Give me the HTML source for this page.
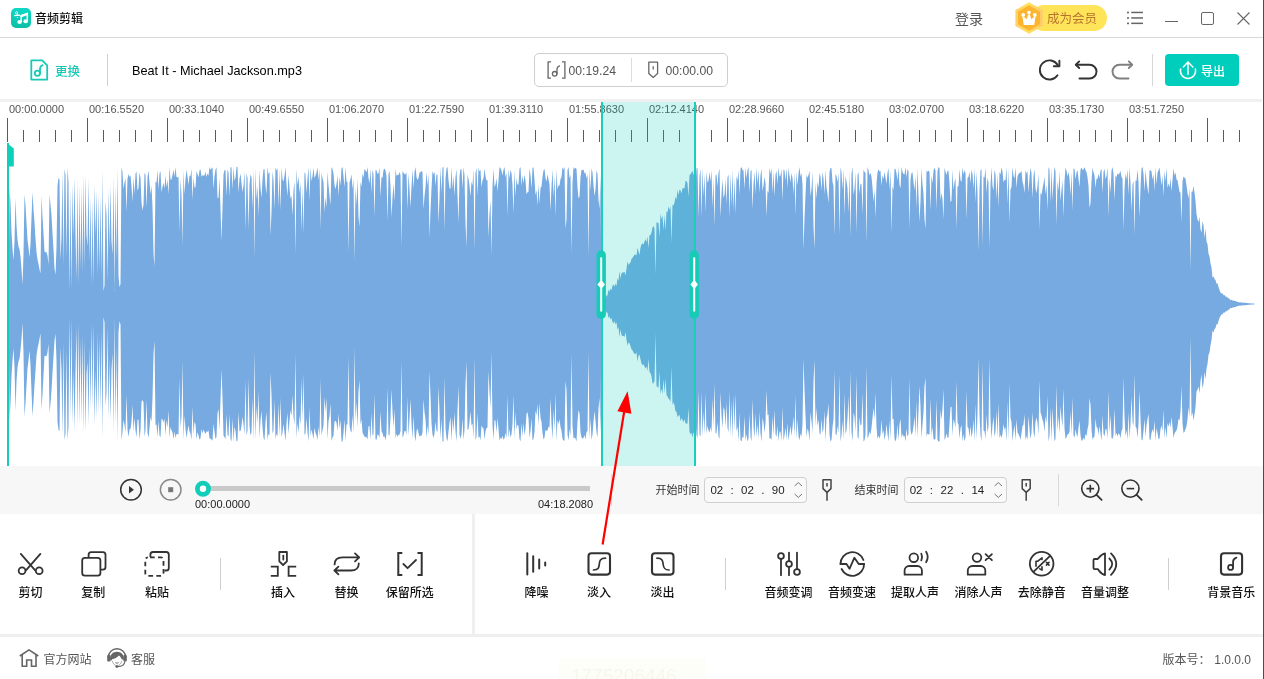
<!DOCTYPE html>
<html lang="zh-CN">
<head>
<meta charset="utf-8">
<title>音频剪辑</title>
<style>
*{box-sizing:border-box;margin:0;padding:0}
html,body{width:1264px;height:679px;overflow:hidden;background:#fff}
body{position:relative;font-family:"Liberation Sans","Noto Sans CJK SC",sans-serif;color:#222}
.a{position:absolute}
.t{position:absolute;white-space:nowrap;line-height:1}
.cjk{font-family:"Liberation Sans","Noto Sans CJK SC",sans-serif}
svg{position:absolute;overflow:visible}
</style>
</head>
<body>
<!-- ===== title bar ===== -->
<div class="a" style="left:0;top:37px;width:1263px;height:1px;background:#d9d9d9"></div>
<svg style="left:11px;top:8px" width="20" height="20" viewBox="0 0 20 20">
  <defs><linearGradient id="lg" x1="0" y1="0" x2="0" y2="1"><stop offset="0" stop-color="#10d8c6"/><stop offset="1" stop-color="#0bbfa6"/></linearGradient></defs>
  <rect x="0" y="0" width="20" height="20" rx="5" fill="url(#lg)"/>
  <path d="M10.2 14V7.6L16.3 5.6V13.2" stroke="#fff" stroke-width="1.5" fill="none"/>
  <path d="M9.5 7.2L17 4.8V7L9.5 9.4Z" fill="#fff"/>
  <ellipse cx="8.6" cy="14.1" rx="2.3" ry="2" fill="#fff"/>
  <ellipse cx="14.7" cy="13.2" rx="2.3" ry="2" fill="#fff"/>
  <path d="M3.3 7.6L9 7.1" stroke="#fff" stroke-width="1.1" fill="none"/>
  <circle cx="5.6" cy="4.9" r="1.1" stroke="#fff" stroke-width="0.9" fill="none"/>
  <path d="M6.2 6L7.5 7.3" stroke="#fff" stroke-width="0.9"/>
  <circle cx="6.4" cy="9.6" r="0.6" fill="#fff" opacity="0.8"/>
</svg>
<div class="t" style="left:35px;top:13px;font-size:12px;color:#111;font-weight:500">音频剪辑</div>

<div class="t" style="left:955px;top:12px;font-size:14px;color:#555">登录</div>
<!-- vip pill -->
<div class="a" style="left:1031px;top:5px;width:76px;height:25.5px;border-radius:13px;background:#ffe45a"></div>
<svg style="left:1014px;top:2px" width="30" height="32" viewBox="0 0 30 32">
  <defs><linearGradient id="hx" x1="0" y1="0" x2="1" y2="0"><stop offset="0" stop-color="#ffcf6a"/><stop offset="0.5" stop-color="#ffe05a"/><stop offset="1" stop-color="#ffc870"/></linearGradient></defs>
  <polygon points="15,0.2 28.6,8.1 28.6,23.9 15,31.8 1.4,23.9 1.4,8.1" fill="url(#hx)"/>
  <polygon points="15,3.3 26,9.7 26,22.3 15,28.7 4,22.3 4,9.7" fill="#fdb42e"/>
  <path d="M8.3 13.6L12.6 17.2L14.3 12.4H15.7L17.4 17.2L21.7 13.6L20.2 22.9H9.8Z" fill="#fff"/>
  <circle cx="9.2" cy="12.9" r="1.9" fill="#fff"/><circle cx="20.8" cy="12.9" r="1.9" fill="#fff"/><circle cx="15" cy="10.6" r="1.8" fill="#fff"/>
</svg>
<div class="t" style="left:1047px;top:12.5px;font-size:12.5px;color:#b8732c">成为会员</div>
<!-- menu / min / max / close -->
<svg style="left:1126px;top:10px" width="20" height="16" viewBox="0 0 20 16">
  <g fill="#666"><rect x="1" y="1.7" width="2" height="1.6"/><rect x="1" y="7.2" width="2" height="1.6"/><rect x="1" y="12.6" width="2" height="1.6"/>
  <rect x="5.2" y="1.7" width="11.8" height="1.5"/><rect x="5.2" y="7.2" width="11.8" height="1.5"/><rect x="5.2" y="12.6" width="11.8" height="1.5"/></g>
</svg>
<div class="a" style="left:1165px;top:21px;width:13px;height:1px;background:#666"></div>
<div class="a" style="left:1201px;top:12px;width:13px;height:13px;border:1px solid #666;border-radius:2px"></div>
<svg style="left:1237px;top:12px" width="13" height="13" viewBox="0 0 13 13"><path d="M0.5 0.5L12.5 12.5M12.5 0.5L0.5 12.5" stroke="#666" stroke-width="1.1"/></svg>

<!-- ===== toolbar ===== -->
<svg style="left:30px;top:59px" width="19" height="23" viewBox="0 0 19 23">
  <path d="M1.3 1.3H12.2L17.2 6.3V20.6H1.3Z" stroke="#18cab5" stroke-width="1.8" fill="none" stroke-linejoin="round"/>
  <circle cx="7.4" cy="14.3" r="2.6" stroke="#18cab5" stroke-width="1.8" fill="none"/>
  <path d="M10 14.2V9.3Q10.2 7.2 12.6 6.2" stroke="#18cab5" stroke-width="1.8" fill="none" stroke-linecap="round"/>
</svg>
<div class="t" style="left:55px;top:65.5px;font-size:12.5px;color:#19c9b4;font-weight:500">更换</div>
<div class="a" style="left:107px;top:54px;width:1px;height:32px;background:#d0d0d0"></div>
<div class="t" style="left:132px;top:64.5px;font-size:12.7px;color:#000">Beat It - Michael Jackson.mp3</div>

<div class="a" style="left:534px;top:53px;width:194px;height:33.6px;border:1px solid #cfcfcf;border-radius:5px"></div>
<svg style="left:547px;top:61px" width="19" height="18" viewBox="0 0 19 18">
  <path d="M4 0.8H1.1V17.2H4M15 0.8H17.9V17.2H15" stroke="#666" stroke-width="1.3" fill="none"/>
  <circle cx="7.7" cy="12.8" r="2.3" stroke="#666" stroke-width="1.3" fill="none"/>
  <path d="M10 12.6V7.6Q10.3 5.7 12.4 4.9" stroke="#666" stroke-width="1.3" fill="none" stroke-linecap="round"/>
</svg>
<div class="t" style="left:568.5px;top:65px;font-size:12.2px;color:#555">00:19.24</div>
<div class="a" style="left:631px;top:58px;width:1px;height:24px;background:#dcdcdc"></div>
<svg style="left:647px;top:61px" width="13" height="18" viewBox="0 0 13 18">
  <path d="M1.8 1.2H10.6V12.4L6.2 16.4L1.8 12.4Z" stroke="#666" stroke-width="1.3" fill="none" stroke-linejoin="round"/>
  <path d="M6.2 5.2V8.4" stroke="#666" stroke-width="1.3"/>
</svg>
<div class="t" style="left:665.5px;top:65px;font-size:12.2px;color:#555">00:00.00</div>

<svg style="left:1038px;top:58px" width="24" height="24" viewBox="0 0 24 24">
  <path d="M19.8 7.2A9.6 9.6 0 1 0 19.5 17.2" stroke="#333" stroke-width="1.9" fill="none" stroke-linecap="round"/>
  <path d="M21.4 2.6V8.2H15.8" stroke="#333" stroke-width="1.9" fill="none" stroke-linecap="round" stroke-linejoin="round"/>
</svg>
<svg style="left:1074px;top:60px" width="24" height="20" viewBox="0 0 24 20">
  <path d="M5.2 1.4L1.8 4.7L5.2 8" stroke="#333" stroke-width="1.9" fill="none" stroke-linecap="round" stroke-linejoin="round"/>
  <path d="M2.2 4.7H15.6A6.9 6.9 0 0 1 15.6 18.5H5.5" stroke="#333" stroke-width="1.9" fill="none" stroke-linecap="round"/>
</svg>
<svg style="left:1110px;top:60px" width="24" height="20" viewBox="0 0 24 20">
  <path d="M18.8 1.4L22.2 4.7L18.8 8" stroke="#808080" stroke-width="1.9" fill="none" stroke-linecap="round" stroke-linejoin="round"/>
  <path d="M21.8 4.7H9.4A6.9 6.9 0 0 0 9.4 18.5H18.5" stroke="#808080" stroke-width="1.9" fill="none" stroke-linecap="round"/>
</svg>
<div class="a" style="left:1152px;top:54px;width:1px;height:32px;background:#d6d6d6"></div>
<div class="a" style="left:1165px;top:54px;width:74px;height:32px;border-radius:4px;background:#00cebd"></div>
<svg style="left:1178px;top:60px" width="20" height="20" viewBox="0 0 20 20">
  <path d="M2.6 9.1A7.6 7.6 0 1 0 17.4 9.1" stroke="#fff" stroke-width="1.5" fill="none" stroke-linecap="round"/>
  <path d="M10 1.9V14.2M5.3 6.9L10 1.9L14.9 6.9" stroke="#fff" stroke-width="1.5" fill="none" stroke-linecap="round" stroke-linejoin="round"/>
</svg>
<div class="t" style="left:1201px;top:66px;font-size:12px;color:#fff;font-weight:500">导出</div>

<!-- band -->
<div class="a" style="left:0;top:99px;width:1262px;height:3px;background:#f0f0f0"></div>

<!-- ===== ruler ===== -->
<div class="t" style="left:9px;top:104px;font-size:11px;color:#555">00:00.0000</div>
<div class="t" style="left:89px;top:104px;font-size:11px;color:#555">00:16.5520</div>
<div class="t" style="left:169px;top:104px;font-size:11px;color:#555">00:33.1040</div>
<div class="t" style="left:249px;top:104px;font-size:11px;color:#555">00:49.6550</div>
<div class="t" style="left:329px;top:104px;font-size:11px;color:#555">01:06.2070</div>
<div class="t" style="left:409px;top:104px;font-size:11px;color:#555">01:22.7590</div>
<div class="t" style="left:489px;top:104px;font-size:11px;color:#555">01:39.3110</div>
<div class="t" style="left:569px;top:104px;font-size:11px;color:#555">01:55.8630</div>
<div class="t" style="left:649px;top:104px;font-size:11px;color:#555">02:12.4140</div>
<div class="t" style="left:729px;top:104px;font-size:11px;color:#555">02:28.9660</div>
<div class="t" style="left:809px;top:104px;font-size:11px;color:#555">02:45.5180</div>
<div class="t" style="left:889px;top:104px;font-size:11px;color:#555">03:02.0700</div>
<div class="t" style="left:969px;top:104px;font-size:11px;color:#555">03:18.6220</div>
<div class="t" style="left:1049px;top:104px;font-size:11px;color:#555">03:35.1730</div>
<div class="t" style="left:1129px;top:104px;font-size:11px;color:#555">03:51.7250</div>
<svg style="left:0;top:0" width="1264" height="150" viewBox="0 0 1264 150"><path d="M7.5 118V142M23.5 130V142M39.5 130V142M55.5 130V142M71.5 130V142M87.5 118V142M103.5 130V142M119.5 130V142M135.5 130V142M151.5 130V142M167.5 118V142M183.5 130V142M199.5 130V142M215.5 130V142M231.5 130V142M247.5 118V142M263.5 130V142M279.5 130V142M295.5 130V142M311.5 130V142M327.5 118V142M343.5 130V142M359.5 130V142M375.5 130V142M391.5 130V142M407.5 118V142M423.5 130V142M439.5 130V142M455.5 130V142M471.5 130V142M487.5 118V142M503.5 130V142M519.5 130V142M535.5 130V142M551.5 130V142M567.5 118V142M583.5 130V142M599.5 130V142M615.5 130V142M631.5 130V142M647.5 118V142M663.5 130V142M679.5 130V142M695.5 130V142M711.5 130V142M727.5 118V142M743.5 130V142M759.5 130V142M775.5 130V142M791.5 130V142M807.5 118V142M823.5 130V142M839.5 130V142M855.5 130V142M871.5 130V142M887.5 118V142M903.5 130V142M919.5 130V142M935.5 130V142M951.5 130V142M967.5 118V142M983.5 130V142M999.5 130V142M1015.5 130V142M1031.5 130V142M1047.5 118V142M1063.5 130V142M1079.5 130V142M1095.5 130V142M1111.5 130V142M1127.5 118V142M1143.5 130V142M1159.5 130V142M1175.5 130V142M1191.5 130V142M1207.5 118V142M1223.5 130V142M1239.5 130V142" stroke="#5a5a5a" stroke-width="1"/></svg>

<!-- ===== waveform ===== -->
<svg style="left:0;top:0" width="1264" height="679" viewBox="0 0 1264 679">
<path d="M8 304 L8.5 303.7 L9.5 188 L10.5 202.2 L11.5 231.8 L12.5 248.7 L13.5 260.3 L14.5 241.5 L15.5 197.9 L16.5 225.8 L17.5 239.6 L18.5 246.5 L19.5 249.6 L20.5 256.6 L21.5 269.2 L22.5 284.6 L23.5 254.2 L24.5 194.3 L25.5 205.3 L26.5 222.9 L27.5 239.7 L28.5 247.7 L29.5 257.6 L30.5 244 L31.5 217.6 L32.5 192.1 L33.5 209.5 L34.5 222.3 L35.5 238.7 L36.5 252.1 L37.5 259.6 L38.5 264 L39.5 269.6 L40.5 273.4 L41.5 195.6 L42.5 216.6 L43.5 233.5 L44.5 251.4 L45.5 252.5 L46.5 251.9 L47.5 255.7 L48.5 264.8 L49.5 195.1 L50.5 204.4 L51.5 215.6 L52.5 233 L53.5 249.3 L54.5 268.6 L55.5 274.8 L56.5 247.3 L57.5 185.7 L58.5 177.7 L59.5 179.4 L60.5 260.2 L61.5 235.9 L62.5 169.9 L63.5 265.8 L64.5 169 L65.5 175.1 L66.5 258.4 L67.5 167 L68.5 182.6 L69.5 291 L70.5 188.1 L71.5 289.3 L72.5 183.9 L73.5 237.8 L74.5 177.1 L75.5 235.3 L76.5 280.1 L77.5 178.9 L78.5 285.2 L79.5 184.5 L80.5 269.3 L81.5 185 L82.5 272.6 L83.5 174.1 L84.5 267.7 L85.5 173.8 L86.5 234.7 L87.5 246.6 L88.5 178.1 L89.5 261.7 L90.5 196.4 L91.5 285.1 L92.5 198 L93.5 285.1 L94.5 183.1 L95.5 236.4 L96.5 189.5 L97.5 276.9 L98.5 192.2 L99.5 271.1 L100.5 195.2 L101.5 276.9 L102.5 168.4 L103.5 291.1 L104.5 285.4 L105.5 201.5 L106.5 214.1 L107.5 281 L108.5 188 L109.5 249 L110.5 185.2 L111.5 241.1 L112.5 254.3 L113.5 175.8 L114.5 290.9 L115.5 184.4 L116.5 260.2 L117.5 167 L118.5 275.8 L119.5 287.2 L120.5 284.1 L121.5 167.3 L122.5 172 L123.5 189 L124.5 182.5 L125.5 178.3 L126.5 212.2 L127.5 178.4 L128.5 173.9 L129.5 177.1 L130.5 175.3 L131.5 186.6 L132.5 201.7 L133.5 176.9 L134.5 194.2 L135.5 173.4 L136.5 171.6 L137.5 190.8 L138.5 188.1 L139.5 172.6 L140.5 177.5 L141.5 202.5 L142.5 210.4 L143.5 204.8 L144.5 172.9 L145.5 174.4 L146.5 207.7 L147.5 176.9 L148.5 170.6 L149.5 182.5 L150.5 194.2 L151.5 185.8 L152.5 207 L153.5 253.6 L154.5 266.4 L155.5 181.3 L156.5 183.1 L157.5 170 L158.5 189.4 L159.5 173.2 L160.5 171.2 L161.5 192.2 L162.5 186.9 L163.5 182.7 L164.5 188.4 L165.5 175.3 L166.5 187.3 L167.5 179.4 L168.5 194.4 L169.5 167 L170.5 180.1 L171.5 179.2 L172.5 175.3 L173.5 169.6 L174.5 176.8 L175.5 167 L176.5 177 L177.5 177.6 L178.5 176.6 L179.5 231.7 L180.5 179.2 L181.5 194.5 L182.5 246.1 L183.5 170 L184.5 194.3 L185.5 178.9 L186.5 169.7 L187.5 176.4 L188.5 185.1 L189.5 175.6 L190.5 176.3 L191.5 168.8 L192.5 200.1 L193.5 177 L194.5 187.8 L195.5 187.3 L196.5 171 L197.5 174 L198.5 177.2 L199.5 170.6 L200.5 169.2 L201.5 176.7 L202.5 175.3 L203.5 175.4 L204.5 175.6 L205.5 171.8 L206.5 176.9 L207.5 173.4 L208.5 175.8 L209.5 167 L210.5 169.8 L211.5 168.5 L212.5 167.3 L213.5 188.8 L214.5 176.2 L215.5 169.6 L216.5 167.3 L217.5 197.5 L218.5 198.2 L219.5 177.9 L220.5 208.5 L221.5 241 L222.5 207.6 L223.5 174.4 L224.5 169.9 L225.5 170.2 L226.5 196 L227.5 169.5 L228.5 172.2 L229.5 196.7 L230.5 167 L231.5 167.5 L232.5 189.4 L233.5 167 L234.5 181 L235.5 177.4 L236.5 167 L237.5 167 L238.5 192.4 L239.5 178.7 L240.5 173.4 L241.5 183 L242.5 191.9 L243.5 185.5 L244.5 171.2 L245.5 230.6 L246.5 173.4 L247.5 177.8 L248.5 229.8 L249.5 185.1 L250.5 174.6 L251.5 176.9 L252.5 209 L253.5 168.4 L254.5 258.1 L255.5 168.2 L256.5 200.1 L257.5 185.6 L258.5 216.6 L259.5 170.2 L260.5 187.4 L261.5 197.9 L262.5 179.6 L263.5 169.3 L264.5 169.1 L265.5 186.1 L266.5 194.1 L267.5 167 L268.5 174.2 L269.5 171.9 L270.5 235.7 L271.5 212.2 L272.5 171.5 L273.5 179.8 L274.5 209.6 L275.5 167.5 L276.5 170.6 L277.5 168.2 L278.5 207.6 L279.5 169.1 L280.5 210.5 L281.5 167.4 L282.5 179.3 L283.5 181.4 L284.5 175.7 L285.5 167 L286.5 184.3 L287.5 196.2 L288.5 174.2 L289.5 188.2 L290.5 198.7 L291.5 195.5 L292.5 215.8 L293.5 190.5 L294.5 181.5 L295.5 254.2 L296.5 168.4 L297.5 185.2 L298.5 176.2 L299.5 193.6 L300.5 182 L301.5 231.4 L302.5 185.6 L303.5 233.8 L304.5 172 L305.5 174.5 L306.5 193.6 L307.5 177.9 L308.5 167 L309.5 201.6 L310.5 167.2 L311.5 181 L312.5 176.2 L313.5 167.7 L314.5 177.9 L315.5 175.8 L316.5 172.6 L317.5 167 L318.5 180.3 L319.5 169 L320.5 229.4 L321.5 172.8 L322.5 178 L323.5 182.3 L324.5 212.6 L325.5 196.9 L326.5 207.8 L327.5 171.8 L328.5 185.3 L329.5 195.5 L330.5 204.9 L331.5 167 L332.5 169 L333.5 173.5 L334.5 184.9 L335.5 189.3 L336.5 184 L337.5 175.2 L338.5 196.2 L339.5 176.8 L340.5 185.4 L341.5 168.2 L342.5 167 L343.5 176.6 L344.5 187.4 L345.5 167 L346.5 181.4 L347.5 182.3 L348.5 252.6 L349.5 182.8 L350.5 178.7 L351.5 174.3 L352.5 189.5 L353.5 178.4 L354.5 261.3 L355.5 186.9 L356.5 205.3 L357.5 178.1 L358.5 216.7 L359.5 226.9 L360.5 182.1 L361.5 186.4 L362.5 173.5 L363.5 177.7 L364.5 168.7 L365.5 170.5 L366.5 172.4 L367.5 167 L368.5 178.3 L369.5 183.6 L370.5 168.5 L371.5 193.2 L372.5 169.6 L373.5 174.6 L374.5 216.7 L375.5 170.2 L376.5 170.3 L377.5 173.9 L378.5 173.3 L379.5 167.7 L380.5 196.7 L381.5 176.6 L382.5 178.3 L383.5 170 L384.5 168.5 L385.5 170.5 L386.5 176.1 L387.5 220.9 L388.5 173.9 L389.5 170.7 L390.5 186.6 L391.5 217.2 L392.5 197.2 L393.5 183.5 L394.5 201.7 L395.5 168.6 L396.5 176.1 L397.5 174.8 L398.5 175.3 L399.5 171.9 L400.5 175.1 L401.5 247 L402.5 170.7 L403.5 172.9 L404.5 174.1 L405.5 174.4 L406.5 172.3 L407.5 210.2 L408.5 173.2 L409.5 188.4 L410.5 207.3 L411.5 186.5 L412.5 169.6 L413.5 189 L414.5 172.1 L415.5 167 L416.5 177 L417.5 180 L418.5 178.1 L419.5 172.8 L420.5 172 L421.5 171.3 L422.5 171.8 L423.5 209.2 L424.5 196.3 L425.5 187.5 L426.5 171.8 L427.5 185.5 L428.5 174.2 L429.5 237.2 L430.5 210.8 L431.5 188.2 L432.5 170.9 L433.5 174.3 L434.5 171.7 L435.5 185.8 L436.5 174.1 L437.5 175.3 L438.5 223.4 L439.5 197.8 L440.5 167 L441.5 192.9 L442.5 167.4 L443.5 167 L444.5 230.5 L445.5 177.9 L446.5 168.3 L447.5 167 L448.5 179.9 L449.5 188 L450.5 188.9 L451.5 167.1 L452.5 189.6 L453.5 175.6 L454.5 196 L455.5 177 L456.5 169.2 L457.5 195.3 L458.5 222.8 L459.5 176.1 L460.5 169.1 L461.5 169.6 L462.5 188.4 L463.5 167 L464.5 175.2 L465.5 223.6 L466.5 246.9 L467.5 174.6 L468.5 179.1 L469.5 185.5 L470.5 196.4 L471.5 181.4 L472.5 185.4 L473.5 169.2 L474.5 251.2 L475.5 173.2 L476.5 167.7 L477.5 196.1 L478.5 167.3 L479.5 171.5 L480.5 169.8 L481.5 186.9 L482.5 180.5 L483.5 178.2 L484.5 168.4 L485.5 176 L486.5 180.4 L487.5 180 L488.5 237.6 L489.5 213 L490.5 200.3 L491.5 255.5 L492.5 186.3 L493.5 168.5 L494.5 187.1 L495.5 184.5 L496.5 178.1 L497.5 191.2 L498.5 180.2 L499.5 167 L500.5 168.3 L501.5 170.6 L502.5 175.4 L503.5 169.7 L504.5 167 L505.5 177.3 L506.5 172.9 L507.5 216 L508.5 169.1 L509.5 178.4 L510.5 169.7 L511.5 173.3 L512.5 185 L513.5 213.2 L514.5 169.5 L515.5 196.7 L516.5 177.9 L517.5 184.4 L518.5 184.5 L519.5 168.7 L520.5 167 L521.5 185.9 L522.5 175 L523.5 183.6 L524.5 174.4 L525.5 180.4 L526.5 194.3 L527.5 192.2 L528.5 191.8 L529.5 168.3 L530.5 175.3 L531.5 189.1 L532.5 167.8 L533.5 167.6 L534.5 179.7 L535.5 195.3 L536.5 189.9 L537.5 205.8 L538.5 183.7 L539.5 203.8 L540.5 187.7 L541.5 186.6 L542.5 176.7 L543.5 170.6 L544.5 168.7 L545.5 178.5 L546.5 181.4 L547.5 174.3 L548.5 179.4 L549.5 184.2 L550.5 210.9 L551.5 186.9 L552.5 169.4 L553.5 197.1 L554.5 175.4 L555.5 216.7 L556.5 169.1 L557.5 189.2 L558.5 185.4 L559.5 185.6 L560.5 178.9 L561.5 176.9 L562.5 167 L563.5 169.6 L564.5 167 L565.5 228.6 L566.5 219.8 L567.5 169.9 L568.5 167 L569.5 178.3 L570.5 174.4 L571.5 253.5 L572.5 182.8 L573.5 167 L574.5 169 L575.5 167.8 L576.5 168.9 L577.5 187.2 L578.5 198.4 L579.5 196.6 L580.5 177.3 L581.5 170.1 L582.5 170 L583.5 169.6 L584.5 173.4 L585.5 172.2 L586.5 178.3 L587.5 174.3 L588.5 256.3 L589.5 167.9 L590.5 190.7 L591.5 168.5 L592.5 172.5 L593.5 184.7 L594.5 196.1 L595.5 189.4 L596.5 170.5 L597.5 173.6 L598.5 199.9 L599.5 209.1 L600.5 175.1 L601.5 303.5 L602.5 302.2 L603.5 300.3 L604.5 299.7 L605.5 297.8 L606.5 295.7 L607.5 295.3 L608.5 289.6 L609.5 291.7 L610.5 288.5 L611.5 290.2 L612.5 285.7 L613.5 284.6 L614.5 286.8 L615.5 283.5 L616.5 285.9 L617.5 278.2 L618.5 280.7 L619.5 271.1 L620.5 278.7 L621.5 273 L622.5 272.6 L623.5 272.6 L624.5 271.7 L625.5 275.4 L626.5 268.8 L627.5 261.2 L628.5 265 L629.5 263.5 L630.5 262.5 L631.5 258.8 L632.5 258 L633.5 256.3 L634.5 254.7 L635.5 254.5 L636.5 255.4 L637.5 247.7 L638.5 251.2 L639.5 254.9 L640.5 247.5 L641.5 244.6 L642.5 243.5 L643.5 244.3 L644.5 241.7 L645.5 239.1 L646.5 242.2 L647.5 236.2 L648.5 248.3 L649.5 235.1 L650.5 235.3 L651.5 232.4 L652.5 227.4 L653.5 226.1 L654.5 228.6 L655.5 274.7 L656.5 222.1 L657.5 222.9 L658.5 222.6 L659.5 237.1 L660.5 213.5 L661.5 219.1 L662.5 215.4 L663.5 230.2 L664.5 214.7 L665.5 230.6 L666.5 211.3 L667.5 212.5 L668.5 206.3 L669.5 210.1 L670.5 206.3 L671.5 243.3 L672.5 204.8 L673.5 205.5 L674.5 202.4 L675.5 196.7 L676.5 199.7 L677.5 189.8 L678.5 195.1 L679.5 189.5 L680.5 190.2 L681.5 193.4 L682.5 188.5 L683.5 187.9 L684.5 188.4 L685.5 180.9 L686.5 180.9 L687.5 183.4 L688.5 196.8 L689.5 175.1 L690.5 174.2 L691.5 172.8 L692.5 170.4 L693.5 174.6 L694.5 175.8 L695.5 186.8 L696.5 168.6 L697.5 167.8 L698.5 217.8 L699.5 175.9 L700.5 168.8 L701.5 217.6 L702.5 167 L703.5 196.8 L704.5 174.1 L705.5 212.6 L706.5 171.3 L707.5 182.6 L708.5 180.9 L709.5 171.7 L710.5 181.4 L711.5 170.1 L712.5 207.4 L713.5 177.3 L714.5 226.7 L715.5 175.6 L716.5 174.3 L717.5 186.6 L718.5 172.8 L719.5 168.4 L720.5 217.6 L721.5 193.7 L722.5 179.1 L723.5 198.1 L724.5 194.7 L725.5 178.9 L726.5 204.2 L727.5 177.4 L728.5 174.6 L729.5 217.7 L730.5 173.1 L731.5 206.8 L732.5 168.5 L733.5 211.1 L734.5 177.4 L735.5 214.6 L736.5 175.9 L737.5 180.7 L738.5 170 L739.5 195.1 L740.5 168.5 L741.5 167 L742.5 169.9 L743.5 170.4 L744.5 189.3 L745.5 167.6 L746.5 178.2 L747.5 169.9 L748.5 167 L749.5 193.1 L750.5 171.3 L751.5 169.7 L752.5 209.3 L753.5 184.3 L754.5 171.4 L755.5 193.9 L756.5 167 L757.5 184.2 L758.5 169.4 L759.5 193.1 L760.5 175.3 L761.5 168.4 L762.5 190.9 L763.5 185.8 L764.5 176.8 L765.5 183.2 L766.5 216.9 L767.5 190.5 L768.5 192.9 L769.5 167.6 L770.5 174 L771.5 168 L772.5 193.2 L773.5 171.3 L774.5 196.8 L775.5 174.6 L776.5 171 L777.5 184 L778.5 167 L779.5 176.8 L780.5 175.6 L781.5 169.1 L782.5 200.7 L783.5 169.3 L784.5 170.6 L785.5 180.6 L786.5 168.1 L787.5 187.8 L788.5 167.7 L789.5 175.7 L790.5 182.5 L791.5 172.9 L792.5 178 L793.5 194.2 L794.5 172 L795.5 215.5 L796.5 171.6 L797.5 185.3 L798.5 173.4 L799.5 167 L800.5 176.5 L801.5 173.2 L802.5 184.6 L803.5 250.1 L804.5 218.6 L805.5 194.5 L806.5 175.1 L807.5 177.7 L808.5 174.9 L809.5 170.5 L810.5 196.6 L811.5 189 L812.5 171.4 L813.5 226.4 L814.5 248.9 L815.5 182.3 L816.5 198.7 L817.5 181.9 L818.5 187.7 L819.5 173 L820.5 176.5 L821.5 190.4 L822.5 171.9 L823.5 178.4 L824.5 194.5 L825.5 169.8 L826.5 187.4 L827.5 194 L828.5 203 L829.5 172 L830.5 168.1 L831.5 168.3 L832.5 181.8 L833.5 186.1 L834.5 236.2 L835.5 174.1 L836.5 175.9 L837.5 181.9 L838.5 173.3 L839.5 235.5 L840.5 167 L841.5 172.3 L842.5 189.5 L843.5 168.7 L844.5 215.6 L845.5 176 L846.5 181.3 L847.5 187.9 L848.5 212.7 L849.5 170.5 L850.5 237.1 L851.5 173.4 L852.5 167 L853.5 194.9 L854.5 189.1 L855.5 171.7 L856.5 233.2 L857.5 175.3 L858.5 171.8 L859.5 194.3 L860.5 183.5 L861.5 184.2 L862.5 213.9 L863.5 169.8 L864.5 171.9 L865.5 172.9 L866.5 243.6 L867.5 167 L868.5 169.9 L869.5 175.4 L870.5 172.7 L871.5 177 L872.5 187.5 L873.5 201.7 L874.5 189.4 L875.5 218.1 L876.5 183.6 L877.5 172.5 L878.5 169.3 L879.5 171.5 L880.5 170.7 L881.5 185.8 L882.5 175 L883.5 179 L884.5 171.9 L885.5 177.4 L886.5 183.8 L887.5 172.8 L888.5 167.9 L889.5 189.7 L890.5 170.6 L891.5 232.7 L892.5 186.3 L893.5 190 L894.5 168.7 L895.5 168.9 L896.5 173.2 L897.5 180.8 L898.5 167 L899.5 185.2 L900.5 188.3 L901.5 167 L902.5 171.7 L903.5 174.1 L904.5 174.6 L905.5 167 L906.5 177.4 L907.5 169 L908.5 171 L909.5 228.8 L910.5 179.2 L911.5 173 L912.5 172.2 L913.5 182.2 L914.5 190.2 L915.5 175.5 L916.5 208.8 L917.5 167.7 L918.5 195.3 L919.5 222 L920.5 200.8 L921.5 168.2 L922.5 184.2 L923.5 193.7 L924.5 219 L925.5 228.7 L926.5 170.3 L927.5 172.1 L928.5 170.5 L929.5 172.2 L930.5 210.7 L931.5 175.1 L932.5 183.6 L933.5 170.8 L934.5 167.8 L935.5 170.6 L936.5 209.8 L937.5 171.1 L938.5 167 L939.5 168.2 L940.5 200.3 L941.5 192.8 L942.5 199.3 L943.5 219.3 L944.5 167.7 L945.5 171.4 L946.5 175 L947.5 170.8 L948.5 170.7 L949.5 183.3 L950.5 201.9 L951.5 200.8 L952.5 169.8 L953.5 190.1 L954.5 182 L955.5 178 L956.5 229.1 L957.5 185.9 L958.5 186.6 L959.5 169.1 L960.5 180.2 L961.5 181.9 L962.5 167.4 L963.5 174.5 L964.5 170 L965.5 173.3 L966.5 220.1 L967.5 178.1 L968.5 176.9 L969.5 171.8 L970.5 183.6 L971.5 169.5 L972.5 174.1 L973.5 188.5 L974.5 167.7 L975.5 202.8 L976.5 171.6 L977.5 191.7 L978.5 251.2 L979.5 189.5 L980.5 170.4 L981.5 169.1 L982.5 245.5 L983.5 176.6 L984.5 177.8 L985.5 167.9 L986.5 193.1 L987.5 177.4 L988.5 182.5 L989.5 248.3 L990.5 185.6 L991.5 167 L992.5 185.9 L993.5 190.5 L994.5 169.7 L995.5 174.1 L996.5 199.5 L997.5 173 L998.5 207.8 L999.5 171.7 L1000.5 174.4 L1001.5 167.5 L1002.5 171.6 L1003.5 182.6 L1004.5 179.8 L1005.5 180.2 L1006.5 167 L1007.5 204.6 L1008.5 167.6 L1009.5 222.4 L1010.5 189.8 L1011.5 186.8 L1012.5 167.1 L1013.5 176 L1014.5 178.6 L1015.5 167 L1016.5 188.2 L1017.5 176.3 L1018.5 174.1 L1019.5 173 L1020.5 172.5 L1021.5 170.8 L1022.5 181.8 L1023.5 185.3 L1024.5 193.3 L1025.5 170.2 L1026.5 173.6 L1027.5 171.2 L1028.5 192.6 L1029.5 177.6 L1030.5 167.7 L1031.5 173.3 L1032.5 198 L1033.5 175.9 L1034.5 169.2 L1035.5 188.1 L1036.5 193.2 L1037.5 185.7 L1038.5 174 L1039.5 229.4 L1040.5 192.4 L1041.5 195.1 L1042.5 188.8 L1043.5 183.4 L1044.5 176.8 L1045.5 194.4 L1046.5 184.2 L1047.5 210.5 L1048.5 167 L1049.5 169.6 L1050.5 202.9 L1051.5 167.3 L1052.5 200.8 L1053.5 181.8 L1054.5 167 L1055.5 170.9 L1056.5 224.8 L1057.5 181 L1058.5 191 L1059.5 170.7 L1060.5 201.3 L1061.5 190.3 L1062.5 179.7 L1063.5 217 L1064.5 181.1 L1065.5 167.3 L1066.5 170.8 L1067.5 176.5 L1068.5 171.9 L1069.5 178 L1070.5 196 L1071.5 171.8 L1072.5 210.9 L1073.5 168.7 L1074.5 168.8 L1075.5 179.3 L1076.5 172.6 L1077.5 170.2 L1078.5 178.9 L1079.5 187.3 L1080.5 169.4 L1081.5 167.5 L1082.5 170.1 L1083.5 169.6 L1084.5 167.1 L1085.5 170.2 L1086.5 171.9 L1087.5 177.3 L1088.5 185.7 L1089.5 207.8 L1090.5 203.6 L1091.5 181.3 L1092.5 167.4 L1093.5 172.2 L1094.5 175.5 L1095.5 188.1 L1096.5 178.5 L1097.5 179 L1098.5 173.7 L1099.5 178.2 L1100.5 170.5 L1101.5 169.1 L1102.5 193 L1103.5 172.3 L1104.5 168.5 L1105.5 178.9 L1106.5 176.2 L1107.5 167 L1108.5 217 L1109.5 177.3 L1110.5 192.9 L1111.5 170.5 L1112.5 167 L1113.5 173.7 L1114.5 200.4 L1115.5 175.3 L1116.5 177.3 L1117.5 173.3 L1118.5 174.8 L1119.5 173.3 L1120.5 170.9 L1121.5 176.7 L1122.5 178.5 L1123.5 230.2 L1124.5 189.3 L1125.5 173.3 L1126.5 179.4 L1127.5 169 L1128.5 195 L1129.5 167 L1130.5 183.3 L1131.5 211.2 L1132.5 184.8 L1133.5 180.8 L1134.5 235.3 L1135.5 180.3 L1136.5 180.9 L1137.5 169.6 L1138.5 182.3 L1139.5 217.4 L1140.5 187.9 L1141.5 168.2 L1142.5 167 L1143.5 173.8 L1144.5 191.4 L1145.5 169.6 L1146.5 181.6 L1147.5 188.2 L1148.5 194.4 L1149.5 170.4 L1150.5 170.2 L1151.5 171.3 L1152.5 179.7 L1153.5 174.2 L1154.5 191.3 L1155.5 167 L1156.5 184.2 L1157.5 172.8 L1158.5 170.3 L1159.5 167.4 L1160.5 176.6 L1161.5 185.6 L1162.5 175.6 L1163.5 196.2 L1164.5 170.8 L1165.5 181.5 L1166.5 167.8 L1167.5 188 L1168.5 183.3 L1169.5 187.5 L1170.5 178 L1171.5 191.4 L1172.5 179.6 L1173.5 168.3 L1174.5 175.4 L1175.5 172.4 L1176.5 179.5 L1177.5 180.3 L1178.5 185.9 L1179.5 191.5 L1180.5 192.7 L1181.5 222.5 L1182.5 181.3 L1183.5 176.4 L1184.5 177.7 L1185.5 178.5 L1186.5 185.4 L1187.5 192.7 L1188.5 198.5 L1189.5 188.5 L1190.5 271 L1191.5 191.8 L1192.5 191.7 L1193.5 185.9 L1194.5 192.5 L1195.5 200.9 L1196.5 213.9 L1197.5 219.6 L1198.5 222 L1199.5 217 L1200.5 229.4 L1201.5 232.4 L1202.5 221.3 L1203.5 224.9 L1204.5 238.3 L1205.5 228.2 L1206.5 241.4 L1207.5 244.1 L1208.5 253.7 L1209.5 256.3 L1210.5 263.5 L1211.5 267.6 L1212.5 277.7 L1213.5 276.2 L1214.5 279 L1215.5 280.1 L1216.5 283.8 L1217.5 283.3 L1218.5 287 L1219.5 290.1 L1220.5 292.4 L1221.5 293.6 L1222.5 293.3 L1223.5 295.2 L1224.5 295 L1225.5 296.6 L1226.5 296.7 L1227.5 297.5 L1228.5 298.2 L1229.5 298.7 L1230.5 300.2 L1231.5 299.8 L1232.5 300.4 L1233.5 300.7 L1234.5 300.8 L1235.5 301 L1236.5 301.6 L1237.5 301.9 L1238.5 301.9 L1239.5 302.4 L1240.5 302.3 L1241.5 302.4 L1242.5 302.7 L1243.5 302.6 L1244.5 302.7 L1245.5 302.7 L1246.5 303 L1247.5 302.9 L1248.5 303.2 L1249.5 303.2 L1250.5 303.2 L1251.5 303.4 L1252.5 303.4 L1253.5 303.5 L1254.5 303.7 L1255 304 L1254.5 304.3 L1253.5 304.5 L1252.5 304.6 L1251.5 304.6 L1250.5 304.8 L1249.5 304.7 L1248.5 304.8 L1247.5 305 L1246.5 305 L1245.5 305.3 L1244.5 305.3 L1243.5 305.4 L1242.5 305.3 L1241.5 305.6 L1240.5 305.8 L1239.5 305.6 L1238.5 306.1 L1237.5 306 L1236.5 306.4 L1235.5 307 L1234.5 307.1 L1233.5 307.4 L1232.5 307.5 L1231.5 308.2 L1230.5 307.7 L1229.5 309.3 L1228.5 309.8 L1227.5 310.6 L1226.5 311.2 L1225.5 311.4 L1224.5 312.8 L1223.5 312.6 L1222.5 314.4 L1221.5 314.2 L1220.5 315.9 L1219.5 317.9 L1218.5 321.1 L1217.5 324.5 L1216.5 324.3 L1215.5 327.9 L1214.5 329 L1213.5 332.5 L1212.5 330.4 L1211.5 340.1 L1210.5 345.3 L1209.5 352.5 L1208.5 354.8 L1207.5 363.9 L1206.5 368.2 L1205.5 379.2 L1204.5 372 L1203.5 383.8 L1202.5 388.4 L1201.5 374.6 L1200.5 381.1 L1199.5 393.6 L1198.5 386.3 L1197.5 390.1 L1196.5 391.5 L1195.5 407 L1194.5 414.1 L1193.5 420.7 L1192.5 412.2 L1191.5 416.6 L1190.5 336.5 L1189.5 416.5 L1188.5 407.3 L1187.5 419.3 L1186.5 426.2 L1185.5 429 L1184.5 431.7 L1183.5 432.9 L1182.5 423.2 L1181.5 386.1 L1180.5 411.9 L1179.5 420.6 L1178.5 418.8 L1177.5 426.8 L1176.5 430.5 L1175.5 431.7 L1174.5 433.5 L1173.5 438 L1172.5 426.7 L1171.5 416.8 L1170.5 427.7 L1169.5 421.8 L1168.5 426.8 L1167.5 423.1 L1166.5 438.8 L1165.5 426.7 L1164.5 438.6 L1163.5 409.8 L1162.5 431 L1161.5 425.5 L1160.5 429.2 L1159.5 438.5 L1158.5 439.3 L1157.5 432.7 L1156.5 427.9 L1155.5 440.7 L1154.5 420.5 L1153.5 432.7 L1152.5 429.3 L1151.5 433 L1150.5 440.1 L1149.5 439.2 L1148.5 413.8 L1147.5 418.9 L1146.5 425.2 L1145.5 436.8 L1144.5 418.7 L1143.5 430.7 L1142.5 440.4 L1141.5 439.4 L1140.5 418.7 L1139.5 390.8 L1138.5 424 L1137.5 437.9 L1136.5 428 L1135.5 426.4 L1134.5 373.7 L1133.5 426.2 L1132.5 421.5 L1131.5 396.3 L1130.5 423.7 L1129.5 438.6 L1128.5 412.1 L1127.5 440 L1126.5 429.9 L1125.5 436.3 L1124.5 416.4 L1123.5 377.1 L1122.5 428.4 L1121.5 430.9 L1120.5 438.3 L1119.5 434.2 L1118.5 433.3 L1117.5 436.4 L1116.5 432.8 L1115.5 436.1 L1114.5 408.3 L1113.5 435 L1112.5 439.1 L1111.5 438.1 L1110.5 414.4 L1109.5 433.6 L1108.5 390.7 L1107.5 438.4 L1106.5 429.2 L1105.5 429 L1104.5 436.4 L1103.5 433.8 L1102.5 415 L1101.5 441.1 L1100.5 433.7 L1099.5 426 L1098.5 434.9 L1097.5 427.9 L1096.5 427.1 L1095.5 418.4 L1094.5 436.5 L1093.5 437.6 L1092.5 439.7 L1091.5 429.6 L1090.5 404.5 L1089.5 398.1 L1088.5 424.8 L1087.5 429 L1086.5 436.1 L1085.5 433.9 L1084.5 440 L1083.5 437.6 L1082.5 440 L1081.5 441 L1080.5 434.9 L1079.5 420.5 L1078.5 427.6 L1077.5 436.8 L1076.5 434.5 L1075.5 429.1 L1074.5 437.7 L1073.5 435.2 L1072.5 397.6 L1071.5 434.4 L1070.5 411.3 L1069.5 432 L1068.5 434 L1067.5 434.3 L1066.5 437.6 L1065.5 438.9 L1064.5 428.6 L1063.5 388.6 L1062.5 427 L1061.5 418.6 L1060.5 406 L1059.5 433.7 L1058.5 416.1 L1057.5 431 L1056.5 384.9 L1055.5 438.9 L1054.5 441.2 L1053.5 426.6 L1052.5 407.5 L1051.5 441.2 L1050.5 407.6 L1049.5 435.9 L1048.5 441.5 L1047.5 395.8 L1046.5 423.5 L1045.5 416.1 L1044.5 431.9 L1043.5 423 L1042.5 419.7 L1041.5 415.6 L1040.5 412.2 L1039.5 380.4 L1038.5 435.3 L1037.5 423 L1036.5 417.4 L1035.5 421.6 L1034.5 437.7 L1033.5 431.9 L1032.5 411.8 L1031.5 432.5 L1030.5 439 L1029.5 428.9 L1028.5 416.1 L1027.5 439.7 L1026.5 435.7 L1025.5 440.4 L1024.5 414.3 L1023.5 424.4 L1022.5 426.2 L1021.5 433.3 L1020.5 439.8 L1019.5 436.5 L1018.5 434 L1017.5 432.4 L1016.5 419.3 L1015.5 440.7 L1014.5 424.9 L1013.5 431.3 L1012.5 441.5 L1011.5 421.8 L1010.5 418.1 L1009.5 383.7 L1008.5 439.4 L1007.5 401.1 L1006.5 441.5 L1005.5 427.1 L1004.5 429.8 L1003.5 424.1 L1002.5 433.4 L1001.5 437.9 L1000.5 434.5 L999.5 438.3 L998.5 402.7 L997.5 437.5 L996.5 410.4 L995.5 431.4 L994.5 436.9 L993.5 416.8 L992.5 425.3 L991.5 438.9 L990.5 419.4 L989.5 358.2 L988.5 426.5 L987.5 432.8 L986.5 414 L985.5 438.9 L984.5 430.9 L983.5 430.8 L982.5 363 L981.5 441.5 L980.5 435 L979.5 414.9 L978.5 357.3 L977.5 414.1 L976.5 439.5 L975.5 403.5 L974.5 441.5 L973.5 419.6 L972.5 432.3 L971.5 437.4 L970.5 425.7 L969.5 437.6 L968.5 428.1 L967.5 427.2 L966.5 390.8 L965.5 436.9 L964.5 441.5 L963.5 434 L962.5 441.5 L961.5 425.1 L960.5 428.2 L959.5 438.8 L958.5 424.7 L957.5 422.4 L956.5 381.3 L955.5 428.1 L954.5 422.6 L953.5 418.9 L952.5 435.9 L951.5 406.6 L950.5 407.2 L949.5 423.2 L948.5 437.4 L947.5 437.8 L946.5 433.3 L945.5 437.7 L944.5 440 L943.5 389.2 L942.5 408.6 L941.5 419.4 L940.5 409.6 L939.5 441.5 L938.5 441.5 L937.5 440 L936.5 399.6 L935.5 438.4 L934.5 439.8 L933.5 439.1 L932.5 426.8 L931.5 436 L930.5 397.8 L929.5 434.6 L928.5 434.4 L927.5 433.5 L926.5 436.5 L925.5 378 L924.5 386.1 L923.5 412.6 L922.5 424.4 L921.5 438.8 L920.5 406.5 L919.5 385.9 L918.5 411.4 L917.5 438 L916.5 400.7 L915.5 436.6 L914.5 416.3 L913.5 425.9 L912.5 432.6 L911.5 435.1 L910.5 430.3 L909.5 378.6 L908.5 434.3 L907.5 436.8 L906.5 428.4 L905.5 441.5 L904.5 435.8 L903.5 436.4 L902.5 433.7 L901.5 438.3 L900.5 418.8 L899.5 424.2 L898.5 440.4 L897.5 424.2 L896.5 437.8 L895.5 441.5 L894.5 439.1 L893.5 418.6 L892.5 419.6 L891.5 374.5 L890.5 439.5 L889.5 420.2 L888.5 441.5 L887.5 433.9 L886.5 424 L885.5 434.7 L884.5 439.9 L883.5 430.3 L882.5 434.3 L881.5 420 L880.5 435.1 L879.5 438.4 L878.5 435.6 L877.5 438.9 L876.5 426.9 L875.5 392.6 L874.5 419.7 L873.5 407.7 L872.5 418 L871.5 427.7 L870.5 434.8 L869.5 431.5 L868.5 436 L867.5 438.6 L866.5 366 L865.5 434.5 L864.5 440.3 L863.5 441.5 L862.5 392.8 L861.5 424.7 L860.5 425.6 L859.5 417 L858.5 439 L857.5 436.9 L856.5 375.4 L855.5 432 L854.5 416.7 L853.5 412.5 L852.5 441.5 L851.5 432 L850.5 370.7 L849.5 438.3 L848.5 396.1 L847.5 417.7 L846.5 430.2 L845.5 434.2 L844.5 392.7 L843.5 439.8 L842.5 420.8 L841.5 435.4 L840.5 441.5 L839.5 374 L838.5 432.8 L837.5 425.9 L836.5 435.2 L835.5 434.1 L834.5 369.9 L833.5 419.5 L832.5 427.2 L831.5 440 L830.5 441.5 L829.5 434.5 L828.5 403.3 L827.5 414.1 L826.5 418.2 L825.5 441.5 L824.5 410.4 L823.5 428.8 L822.5 432.7 L821.5 418.5 L820.5 434.8 L819.5 433.3 L818.5 419.6 L817.5 426.2 L816.5 407.4 L815.5 425.9 L814.5 360 L813.5 381.2 L812.5 432.8 L811.5 420.9 L810.5 412 L809.5 441.2 L808.5 431.4 L807.5 428.6 L806.5 436.9 L805.5 415.1 L804.5 389.5 L803.5 358.2 L802.5 423.9 L801.5 436.6 L800.5 433.5 L799.5 440.3 L798.5 436.5 L797.5 419.6 L796.5 439.4 L795.5 394.7 L794.5 436.3 L793.5 416.2 L792.5 427.4 L791.5 436.1 L790.5 425.7 L789.5 433 L788.5 441.1 L787.5 422.7 L786.5 439.7 L785.5 427.6 L784.5 435.8 L783.5 440.4 L782.5 407 L781.5 441.3 L780.5 431.7 L779.5 431.4 L778.5 441.2 L777.5 425.7 L776.5 436.8 L775.5 434.3 L774.5 409.6 L773.5 436.3 L772.5 416 L771.5 440 L770.5 438.1 L769.5 439 L768.5 414.2 L767.5 415.5 L766.5 389.9 L765.5 423.3 L764.5 432.8 L763.5 422.5 L762.5 417.7 L761.5 441.4 L760.5 433.3 L759.5 411.6 L758.5 439.1 L757.5 424.3 L756.5 437.1 L755.5 413.1 L754.5 438.3 L753.5 426.8 L752.5 399.2 L751.5 441.5 L750.5 436.5 L749.5 413.8 L748.5 438.8 L747.5 441.4 L746.5 434.2 L745.5 440.5 L744.5 416 L743.5 438.1 L742.5 436.4 L741.5 441.5 L740.5 440.3 L739.5 412.4 L738.5 441.5 L737.5 426.3 L736.5 431.6 L735.5 393.3 L734.5 431 L733.5 395.2 L732.5 439 L731.5 400.7 L730.5 437.1 L729.5 391.1 L728.5 432.2 L727.5 427.9 L726.5 402.8 L725.5 427.3 L724.5 410 L723.5 407.1 L722.5 428.5 L721.5 415.2 L720.5 392 L719.5 439 L718.5 436.2 L717.5 421.9 L716.5 432.7 L715.5 433.7 L714.5 382.9 L713.5 427.5 L712.5 397.7 L711.5 432.8 L710.5 427 L709.5 432.7 L708.5 430.5 L707.5 425.8 L706.5 434 L705.5 393 L704.5 434.5 L703.5 410.9 L702.5 437.1 L701.5 390.9 L700.5 436.4 L699.5 434.6 L698.5 390.3 L697.5 438 L696.5 435.3 L695.5 419.6 L694.5 435.1 L693.5 432.3 L692.5 437.7 L691.5 433.1 L690.5 433.9 L689.5 432.1 L688.5 407.8 L687.5 423.5 L686.5 423.8 L685.5 423.2 L684.5 419 L683.5 422.2 L682.5 420.1 L681.5 417.9 L680.5 421.3 L679.5 415.1 L678.5 415.4 L677.5 417.2 L676.5 411.5 L675.5 411.5 L674.5 405.3 L673.5 402.3 L672.5 405.3 L671.5 366.2 L670.5 402.1 L669.5 399.6 L668.5 398.5 L667.5 396.4 L666.5 394.8 L665.5 378.8 L664.5 393.4 L663.5 379.1 L662.5 394 L661.5 388.7 L660.5 394.4 L659.5 371.2 L658.5 387.8 L657.5 387.1 L656.5 386.1 L655.5 332.8 L654.5 381.1 L653.5 383.2 L652.5 383.5 L651.5 376.2 L650.5 372.9 L649.5 372.1 L648.5 358.9 L647.5 371 L646.5 366.5 L645.5 368.6 L644.5 366.6 L643.5 364.3 L642.5 365.3 L641.5 363.6 L640.5 359.3 L639.5 354.5 L638.5 356.1 L637.5 361.5 L636.5 352.2 L635.5 354.3 L634.5 353.7 L633.5 352.6 L632.5 350.3 L631.5 349.2 L630.5 346.2 L629.5 343.2 L628.5 342.5 L627.5 345.7 L626.5 339.8 L625.5 332 L624.5 337 L623.5 335.9 L622.5 335.9 L621.5 335.3 L620.5 329.2 L619.5 337.1 L618.5 327 L617.5 329.7 L616.5 322.2 L615.5 324.4 L614.5 320.8 L613.5 323.4 L612.5 322.1 L611.5 318 L610.5 319.6 L609.5 316.3 L608.5 318.2 L607.5 312.7 L606.5 312.5 L605.5 310.2 L604.5 308.3 L603.5 307.7 L602.5 305.8 L601.5 304.5 L600.5 432.7 L599.5 398 L598.5 408.1 L597.5 437.2 L596.5 432.5 L595.5 420.7 L594.5 410.9 L593.5 421.6 L592.5 434.5 L591.5 440.1 L590.5 417.9 L589.5 438.5 L588.5 351.5 L587.5 430.9 L586.5 432.1 L585.5 439.5 L584.5 435 L583.5 437.7 L582.5 438.8 L581.5 437.5 L580.5 432.5 L579.5 412.9 L578.5 410.2 L577.5 421.5 L576.5 441.5 L575.5 438.6 L574.5 437.6 L573.5 438.6 L572.5 425.6 L571.5 353.6 L570.5 435.6 L569.5 429.3 L568.5 440.8 L567.5 434.4 L566.5 389.7 L565.5 381.1 L564.5 440.7 L563.5 440.4 L562.5 438.7 L561.5 430.7 L560.5 427.1 L559.5 419.1 L558.5 424.3 L557.5 419.9 L556.5 441.4 L555.5 392.7 L554.5 430.6 L553.5 409.4 L552.5 439.5 L551.5 424.1 L550.5 397.9 L549.5 427.6 L548.5 426.4 L547.5 430.5 L546.5 430.9 L545.5 429.7 L544.5 437.6 L543.5 439.4 L542.5 433 L541.5 421.8 L540.5 418.1 L539.5 402.8 L538.5 425.5 L537.5 404 L536.5 415.3 L535.5 410.8 L534.5 431.9 L533.5 438.9 L532.5 440.4 L531.5 418.1 L530.5 431.2 L529.5 437.7 L528.5 418.4 L527.5 412 L526.5 413.9 L525.5 428.4 L524.5 435.6 L523.5 422.9 L522.5 436.3 L521.5 423 L520.5 441.5 L519.5 439.1 L518.5 426 L517.5 424.7 L516.5 429.3 L515.5 411.8 L514.5 439.2 L513.5 395.1 L512.5 424 L511.5 434.3 L510.5 437.5 L509.5 428.9 L508.5 438.5 L507.5 395 L506.5 437.9 L505.5 432.7 L504.5 438.3 L503.5 439.8 L502.5 435.8 L501.5 438.9 L500.5 437.8 L499.5 440.8 L498.5 428.8 L497.5 417.7 L496.5 432.6 L495.5 420.7 L494.5 420.1 L493.5 439.8 L492.5 424.8 L491.5 351.7 L490.5 407.9 L489.5 392.3 L488.5 370.9 L487.5 427.5 L486.5 428 L485.5 431.5 L484.5 439.6 L483.5 428.4 L482.5 427.4 L481.5 425.4 L480.5 440.2 L479.5 436.2 L478.5 438.2 L477.5 413.1 L476.5 436.7 L475.5 440 L474.5 356.6 L473.5 438.2 L472.5 423.6 L471.5 425.4 L470.5 411.2 L469.5 421.8 L468.5 429.3 L467.5 429.7 L466.5 361.8 L465.5 384.1 L464.5 429.7 L463.5 440.1 L462.5 418.6 L461.5 434.5 L460.5 438.6 L459.5 434.4 L458.5 386.1 L457.5 410.8 L456.5 441.5 L455.5 431.5 L454.5 412.2 L453.5 431.5 L452.5 418 L451.5 441.5 L450.5 416.7 L449.5 423.1 L448.5 431.3 L447.5 441.5 L446.5 438.2 L445.5 428.1 L444.5 376.9 L443.5 441.5 L442.5 441.5 L441.5 419 L440.5 438.6 L439.5 411.7 L438.5 386.6 L437.5 431.8 L436.5 430.9 L435.5 421.6 L434.5 433.4 L433.5 438 L432.5 434.6 L431.5 423.7 L430.5 395.9 L429.5 371.3 L428.5 434.6 L427.5 425.6 L426.5 437.9 L425.5 418.9 L424.5 412.2 L423.5 399.3 L422.5 432.7 L421.5 435.7 L420.5 435.7 L419.5 436.6 L418.5 432.9 L417.5 428.2 L416.5 431.3 L415.5 441.5 L414.5 434.6 L413.5 415.7 L412.5 438.9 L411.5 423.8 L410.5 399 L409.5 419.2 L408.5 436.1 L407.5 397.1 L406.5 434.7 L405.5 430.7 L404.5 431.1 L403.5 435.6 L402.5 437.7 L401.5 360.8 L400.5 431 L399.5 434.7 L398.5 434.8 L397.5 436.7 L396.5 433.8 L395.5 438.2 L394.5 409 L393.5 427.3 L392.5 411.8 L391.5 389.3 L390.5 417.9 L389.5 435.5 L388.5 435.1 L387.5 387 L386.5 433.5 L385.5 440.5 L384.5 436.2 L383.5 437 L382.5 432.9 L381.5 431.2 L380.5 411.1 L379.5 437.7 L378.5 435 L377.5 434.2 L376.5 440 L375.5 439.2 L374.5 394 L373.5 434.3 L372.5 435.4 L371.5 413.1 L370.5 440 L369.5 425.9 L368.5 426.2 L367.5 439.6 L366.5 437.2 L365.5 437 L364.5 436.4 L363.5 434.8 L362.5 432.5 L361.5 419.2 L360.5 424.4 L359.5 380.1 L358.5 391.7 L357.5 428.3 L356.5 402 L355.5 420.3 L354.5 347.4 L353.5 433.5 L352.5 415.1 L351.5 432.6 L350.5 431.1 L349.5 425.2 L348.5 356.7 L347.5 424.3 L346.5 424.6 L345.5 441.1 L344.5 419.2 L343.5 433 L342.5 441.5 L341.5 441.5 L340.5 419.4 L339.5 428.8 L338.5 413.4 L337.5 431 L336.5 422.8 L335.5 420.8 L334.5 421.6 L333.5 435.7 L332.5 437.6 L331.5 441.1 L330.5 403.6 L329.5 416 L328.5 421.2 L327.5 439.7 L326.5 397.7 L325.5 411.9 L324.5 396.8 L323.5 425.5 L322.5 430.4 L321.5 435.3 L320.5 378.7 L319.5 436.7 L318.5 426.4 L317.5 440.2 L316.5 435.3 L315.5 433.1 L314.5 427.7 L313.5 439.1 L312.5 433.9 L311.5 429.6 L310.5 436 L309.5 407.3 L308.5 441.5 L307.5 432.7 L306.5 418.1 L305.5 433.5 L304.5 435.1 L303.5 373.5 L302.5 420.8 L301.5 378 L300.5 425.2 L299.5 414.9 L298.5 433.1 L297.5 423.2 L296.5 438.1 L295.5 354.6 L294.5 424.7 L293.5 417.1 L292.5 394.9 L291.5 415.7 L290.5 410.2 L289.5 421.2 L288.5 433.9 L287.5 412.7 L286.5 423.6 L285.5 441 L284.5 432.4 L283.5 423.7 L282.5 432.4 L281.5 437.2 L280.5 397.7 L279.5 436.8 L278.5 403.6 L277.5 436.5 L276.5 433.8 L275.5 439.3 L274.5 399.6 L273.5 430.8 L272.5 433.5 L271.5 395.3 L270.5 372.2 L269.5 435.3 L268.5 434.1 L267.5 440 L266.5 411.9 L265.5 421.7 L264.5 440.4 L263.5 437.8 L262.5 427.8 L261.5 410.8 L260.5 420.5 L259.5 438.2 L258.5 390.5 L257.5 424.1 L256.5 405.7 L255.5 439.9 L254.5 350.8 L253.5 441.1 L252.5 397.8 L251.5 432.5 L250.5 435.6 L249.5 425.8 L248.5 378.2 L247.5 431.1 L246.5 435.4 L245.5 379.9 L244.5 434.2 L243.5 424.3 L242.5 416.8 L241.5 426.1 L240.5 431 L239.5 431.5 L238.5 412.1 L237.5 440.5 L236.5 441.5 L235.5 431.2 L234.5 426.6 L233.5 441.5 L232.5 418 L231.5 441.5 L230.5 439 L229.5 414.1 L228.5 436.7 L227.5 434.8 L226.5 414 L225.5 439.3 L224.5 436.9 L223.5 435.6 L222.5 397.8 L221.5 368.9 L220.5 400.2 L219.5 430 L218.5 409.1 L217.5 413.1 L216.5 436.4 L215.5 439.2 L214.5 431.6 L213.5 423.7 L212.5 440.8 L211.5 439.6 L210.5 438.7 L209.5 438.2 L208.5 430.5 L207.5 431.8 L206.5 431.6 L205.5 434.1 L204.5 432 L203.5 429.6 L202.5 433.7 L201.5 429 L200.5 438.4 L199.5 439.6 L198.5 435.4 L197.5 432.1 L196.5 439.7 L195.5 424.2 L194.5 421.7 L193.5 434.5 L192.5 406.4 L191.5 439.7 L190.5 433.8 L189.5 431.2 L188.5 425.4 L187.5 431 L186.5 437.9 L185.5 429.3 L184.5 415.2 L183.5 440.5 L182.5 361.1 L181.5 417.2 L180.5 427.7 L179.5 378.6 L178.5 435 L177.5 433.8 L176.5 434.1 L175.5 438 L174.5 431.2 L173.5 439.2 L172.5 432.5 L171.5 430.2 L170.5 426.8 L169.5 437.7 L168.5 410.2 L167.5 427.8 L166.5 419.9 L165.5 435.6 L164.5 418.4 L163.5 422.4 L162.5 419.2 L161.5 418.8 L160.5 437.2 L159.5 435.5 L158.5 420.8 L157.5 437.1 L156.5 424.5 L155.5 425 L154.5 340.5 L153.5 354.2 L152.5 398.3 L151.5 421.4 L150.5 417 L149.5 428.1 L148.5 437.8 L147.5 433 L146.5 400.1 L145.5 430.2 L144.5 436.7 L143.5 402.2 L142.5 399.9 L141.5 401.8 L140.5 430.2 L139.5 439.4 L138.5 419.6 L137.5 419.7 L136.5 437.5 L135.5 430.6 L134.5 417.4 L133.5 431.4 L132.5 405.1 L131.5 421.8 L130.5 429.1 L129.5 429.5 L128.5 436.9 L127.5 429.4 L126.5 394.4 L125.5 432.3 L124.5 425 L123.5 419.8 L122.5 432.3 L121.5 441 L120.5 324.4 L119.5 321.2 L118.5 332.3 L117.5 441.5 L116.5 347.8 L115.5 424.5 L114.5 317.3 L113.5 433 L112.5 353.2 L111.5 369.4 L110.5 421 L109.5 358.7 L108.5 418.4 L107.5 327 L106.5 392.5 L105.5 406.3 L104.5 322.6 L103.5 317 L102.5 439.5 L101.5 330.7 L100.5 413 L99.5 337 L98.5 414.9 L97.5 331.5 L96.5 419.3 L95.5 370 L94.5 427.2 L93.5 322.4 L92.5 409.5 L91.5 323.3 L90.5 410.4 L89.5 346.2 L88.5 425.7 L87.5 362 L86.5 373.7 L85.5 432.7 L84.5 340.2 L83.5 433.5 L82.5 334.8 L81.5 423.5 L80.5 338.4 L79.5 425.2 L78.5 322.4 L77.5 427.8 L76.5 327.6 L75.5 372.1 L74.5 431.7 L73.5 370.1 L72.5 424 L71.5 318.5 L70.5 417.5 L69.5 316.9 L68.5 426.9 L67.5 440.8 L66.5 348.6 L65.5 434.1 L64.5 439.9 L63.5 342.2 L62.5 436.8 L61.5 370.3 L60.5 347.3 L59.5 431.3 L58.5 429.7 L57.5 422 L56.5 360.3 L55.5 333.8 L54.5 340.4 L53.5 357.1 L52.5 372.6 L51.5 390.4 L50.5 403.5 L49.5 412.7 L48.5 344.1 L47.5 352.2 L46.5 356.2 L45.5 355.9 L44.5 355.7 L43.5 375.5 L42.5 393.9 L41.5 410.1 L40.5 333.6 L39.5 338.7 L38.5 343.9 L37.5 348.5 L36.5 355.4 L35.5 370.5 L34.5 384.9 L33.5 401.4 L32.5 416.2 L31.5 391.4 L30.5 365.1 L29.5 350.6 L28.5 360.5 L27.5 368.3 L26.5 385.5 L25.5 402.9 L24.5 417 L23.5 353.2 L22.5 323 L21.5 339 L20.5 350.1 L19.5 358.5 L18.5 361.5 L17.5 367.2 L16.5 381.2 L15.5 411.1 L14.5 366.7 L13.5 348.6 L12.5 359.9 L11.5 376.2 L10.5 403.5 L9.5 420.3 L8.5 304.3Z" fill="#76aae0"/>
</svg>
<div class="a" style="left:601px;top:102px;width:94px;height:364px;background:rgba(0,205,184,0.2)"></div>
<div class="a" style="left:601px;top:102px;width:2px;height:364px;background:#1ccdb8"></div>
<div class="a" style="left:694px;top:102px;width:2px;height:364px;background:#1ccdb8"></div>
<!-- playhead -->
<div class="a" style="left:7px;top:143px;width:2px;height:323px;background:#14ccb8"></div>
<svg style="left:7px;top:143px" width="8" height="24" viewBox="0 0 8 24"><path d="M0 0L6.8 5.4V23.4H0Z" fill="#0ecfb9"/></svg>
<!-- handles -->
<svg style="left:596px;top:250px" width="12" height="70" viewBox="0 0 12 70">
 <rect x="0.5" y="0.3" width="9.4" height="68.8" rx="4.7" fill="#17ccb7"/>
 <rect x="4.2" y="7.4" width="2" height="54.1" fill="#fff"/>
 <path d="M5.2 29.7L9 34.4L5.2 39.1L1.4 34.4Z" fill="#fff"/>
</svg>
<svg style="left:689.2px;top:250px" width="12" height="70" viewBox="0 0 12 70">
 <rect x="0.5" y="0.3" width="9.4" height="68.8" rx="4.7" fill="#17ccb7"/>
 <rect x="4.2" y="7.4" width="2" height="54.1" fill="#fff"/>
 <path d="M5.2 29.7L9 34.4L5.2 39.1L1.4 34.4Z" fill="#fff"/>
</svg>

<!-- ===== control bar ===== -->
<div class="a" style="left:0;top:466px;width:1263px;height:48px;background:#f7f7f7"></div>
<svg style="left:0;top:466px" width="1264" height="48" viewBox="0 466 1264 48">
  <!-- play -->
  <circle cx="131" cy="489.7" r="10.3" stroke="#333" stroke-width="1.5" fill="none"/>
  <path d="M129 485.9L133.9 489.7L129 493.5Z" fill="#333"/>
  <!-- stop -->
  <circle cx="170.7" cy="489.7" r="10.3" stroke="#8a8a8a" stroke-width="1.5" fill="none"/>
  <rect x="168.2" y="487.2" width="5" height="5" fill="#777"/>
  <!-- track -->
  <rect x="203" y="486" width="387" height="5" fill="#c9c9c9"/>
  <circle cx="203" cy="488.8" r="8" fill="#12cdb9"/>
  <circle cx="203" cy="488.8" r="3.2" fill="#fff"/>
  <!-- faint divider -->
  <rect x="611" y="474" width="1" height="32" fill="#dadada"/>
  <!-- start pin -->
  <path d="M823 479.8H831V488.6L827 492.4L823 488.6Z" stroke="#444" stroke-width="1.5" fill="none" stroke-linejoin="round"/>
  <path d="M827 483V486.6M827 492.4V500.8" stroke="#444" stroke-width="1.5"/>
  <!-- end pin -->
  <path d="M1022.2 479.8H1030.2V488.6L1026.2 492.4L1022.2 488.6Z" stroke="#444" stroke-width="1.5" fill="none" stroke-linejoin="round"/>
  <path d="M1026.2 483V486.6M1026.2 492.4V500.8" stroke="#444" stroke-width="1.5"/>
  <!-- divider -->
  <rect x="1058" y="474" width="1" height="32" fill="#d8d8d8"/>
  <!-- zoom in -->
  <circle cx="1090.3" cy="488.6" r="8.6" stroke="#333" stroke-width="1.6" fill="none"/>
  <path d="M1096.6 494.9L1101.6 499.9" stroke="#333" stroke-width="1.8" stroke-linecap="round"/>
  <path d="M1086.5 488.6H1094.1M1090.3 484.8V492.4" stroke="#333" stroke-width="1.6"/>
  <!-- zoom out -->
  <circle cx="1130.4" cy="488.6" r="8.6" stroke="#333" stroke-width="1.6" fill="none"/>
  <path d="M1136.7 494.9L1141.7 499.9" stroke="#333" stroke-width="1.8" stroke-linecap="round"/>
  <path d="M1126.6 488.6H1134.2" stroke="#333" stroke-width="1.6"/>
</svg>
<div class="t" style="left:195px;top:498.7px;font-size:11px;color:#222">00:00.0000</div>
<div class="t" style="left:538px;top:498.7px;font-size:11px;color:#222">04:18.2080</div>
<div class="t" style="left:655.5px;top:484.7px;font-size:11px;color:#333">开始时间</div>
<div class="a" style="left:704px;top:477px;width:103px;height:26px;border:1px solid #d0d0d0;border-radius:4px;background:#f9f9f9"></div>
<div class="t" style="left:710.4px;top:485px;font-size:11.5px;color:#222">02</div>
<div class="t" style="left:730.5px;top:485px;font-size:11.5px;color:#222">:</div>
<div class="t" style="left:741px;top:485px;font-size:11.5px;color:#222">02</div>
<div class="t" style="left:761.3px;top:485px;font-size:11.5px;color:#222">.</div>
<div class="t" style="left:771.8px;top:485px;font-size:11.5px;color:#222">90</div>
<svg style="left:794px;top:482px" width="9" height="17" viewBox="0 0 9 17"><path d="M0.6 4L4.3 0.6L8 4M0.6 12L4.3 15.4L8 12" stroke="#777" stroke-width="1" fill="none"/></svg>
<div class="t" style="left:854.5px;top:484.7px;font-size:11px;color:#333">结束时间</div>
<div class="a" style="left:903.5px;top:477px;width:103px;height:26px;border:1px solid #d0d0d0;border-radius:4px;background:#f9f9f9"></div>
<div class="t" style="left:909.7px;top:485px;font-size:11.5px;color:#222">02</div>
<div class="t" style="left:929.8px;top:485px;font-size:11.5px;color:#222">:</div>
<div class="t" style="left:940.5px;top:485px;font-size:11.5px;color:#222">22</div>
<div class="t" style="left:960.8px;top:485px;font-size:11.5px;color:#222">.</div>
<div class="t" style="left:971.4px;top:485px;font-size:11.5px;color:#222">14</div>
<svg style="left:993.5px;top:482px" width="9" height="17" viewBox="0 0 9 17"><path d="M0.6 4L4.3 0.6L8 4M0.6 12L4.3 15.4L8 12" stroke="#777" stroke-width="1" fill="none"/></svg>


<!-- ===== bottom toolbar ===== -->
<div class="a" style="left:472px;top:514px;width:3px;height:120px;background:#efefef"></div>
<div class="a" style="left:0;top:634px;width:1263px;height:3px;background:#efefef"></div>
<div class="a" style="left:220px;top:558px;width:1px;height:32px;background:#cfcfcf"></div>
<div class="a" style="left:725px;top:558px;width:1px;height:32px;background:#cfcfcf"></div>
<div class="a" style="left:1168px;top:558px;width:1px;height:32px;background:#cfcfcf"></div>
<svg style="left:0;top:0" width="1264" height="679" viewBox="0 0 1264 679">
<g stroke="#333" stroke-width="1.8" fill="none" stroke-linecap="round" stroke-linejoin="round">
  <!-- cut -->
  <circle cx="22.05" cy="570.7" r="3.4"/><circle cx="39.2" cy="570.7" r="3.4"/>
  <path d="M20.8 553.9L35.2 570.3M40.4 553.9L25.9 570.3"/>
  <!-- copy -->
  <rect x="88.6" y="552.1" width="16.9" height="17.5" rx="2.6" fill="#fff"/>
  <rect x="82.2" y="557.8" width="18.2" height="17.9" rx="2.6" fill="#fff"/>
  <!-- paste -->
  <path d="M150.4 557V554.6Q150.4 552 153 552H166.2Q168.8 552 168.8 554.6V567.9Q168.8 570.5 166.2 570.5H164.4" stroke-linecap="butt"/>
  <rect x="145.3" y="557.3" width="18.2" height="18.5" rx="2.6" stroke-dasharray="4.7 3.3" stroke-dashoffset="-2.1" stroke-linecap="butt"/>
  <!-- insert -->
  <path d="M279.3 552H286.9V561.3L283.1 565L279.3 561.3Z"/>
  <path d="M283.3 555.6V559.6"/>
  <path d="M270.8 566.6H277.8V575.9H270.8M296.2 566.6H288.6V575.9H296.2" stroke-linecap="butt" stroke-linejoin="miter"/>
  <!-- replace -->
  <path d="M334.6 564.4C334.6 560 337.5 557.4 342.5 557.4H359.2M355 553.4L359.2 557.4L355 561.4M358.8 563.4C358.8 567.6 356 570.5 351 570.5H334.4M338.4 566.6L334.4 570.5L338.4 574.4"/>
  <!-- keep -->
  <path d="M402.3 553H398.3V574.9H402.3M417.5 553H421.7V574.9H417.5" stroke-width="2" stroke-linecap="butt" stroke-linejoin="miter"/>
  <path d="M403.4 564L407.6 568.2L416 560"/>
  <!-- denoise -->
  <path d="M527.3 553.2V574.6M533.2 556.3V571.7M539.2 559.4V568.6M545.2 562.4V565.6" stroke-width="2"/>
  <!-- fade in -->
  <rect x="588.5" y="553.2" width="21.5" height="21.4" rx="3" stroke-width="2.1"/>
  <path d="M593.5 570C599 570 599 567 599.3 564C599.6 561 600 558.2 605.5 558.2" stroke-width="1.7"/>
  <!-- fade out -->
  <rect x="652" y="553.2" width="21.5" height="21.4" rx="3" stroke-width="2.1"/>
  <path d="M657 558.2C662.5 558.2 662.8 561 663.1 564C663.4 567 663.9 570 669 570" stroke-width="1.7"/>
  <!-- pitch -->
  <circle cx="781" cy="556.1" r="2.9"/><path d="M781 559V575.2"/>
  <circle cx="789" cy="564" r="2.9"/><path d="M789 552.6V561.1M789 566.9V575.2"/>
  <circle cx="797" cy="572" r="2.9"/><path d="M797 552.6V569.1"/>
  <!-- speed -->
  <path d="M840.5 564A11.8 11.8 0 0 1 863.4 560M864.1 564A11.8 11.8 0 0 1 841.6 569"/>
  <path d="M840.5 564H846.5L849.5 568.8L854.4 557.7L858.7 564H864.1"/>
  <!-- extract voice -->
  <circle cx="913.8" cy="557.7" r="4.3"/>
  <path d="M904.6 574.7V570.5A4.5 4.5 0 0 1 909.1 566H917.4A4.5 4.5 0 0 1 921.9 570.5V574.7Z"/>
  <path d="M921.3 553.6Q922.9 557 921.3 560.4M926.1 551.8Q929.3 557 926.1 562.3"/>
  <!-- remove voice -->
  <circle cx="977" cy="557.6" r="4.3"/>
  <path d="M967.8 574.7V570.5A4.5 4.5 0 0 1 972.3 566H980.8A4.5 4.5 0 0 1 985.3 570.5V574.7Z"/>
  <path d="M985.6 554.1L991.9 560.2M991.9 554.1L985.6 560.2"/>
  <!-- remove silence -->
  <circle cx="1041.65" cy="563.75" r="11.8"/>
  <path d="M1050.1 555.8L1033.7 571.7"/>
  <path d="M1036 566.2V561.2H1037.8L1042 557.8V559.6M1042 566.8V570.2L1039.8 568.8" stroke-width="1.6"/>
  <path d="M1046.4 562.4L1049 565.1M1049 562.4L1046.4 565.1" stroke-width="1.6"/>
  <!-- volume -->
  <path d="M1105 553.3V575C1101.3 574.5 1099.6 571.2 1097.8 569.2H1094.6Q1093.5 569.2 1093.5 568.1V560.1Q1093.5 559 1094.6 559H1097.8C1099.6 557 1101.3 553.8 1105 553.3Z"/>
  <path d="M1109.4 558.5Q1115 564 1109.4 569.6M1111 553.4Q1121.5 564 1111 574.9"/>
  <!-- bg music -->
  <rect x="1221" y="553.2" width="21.1" height="21.4" rx="3" stroke-width="2.1"/>
  <circle cx="1230.6" cy="567.4" r="2.5"/>
  <path d="M1233.1 567V561.2Q1233.5 558.6 1236.4 557.6"/>
</g>
</svg>
<div class="t" style="left:18.5px;top:587px;font-size:12px;color:#111;font-weight:500">剪切</div>
<div class="t" style="left:81.3px;top:587px;font-size:12px;color:#111;font-weight:500">复制</div>
<div class="t" style="left:145.0px;top:587px;font-size:12px;color:#111;font-weight:500">粘贴</div>
<div class="t" style="left:271.0px;top:587px;font-size:12px;color:#111;font-weight:500">插入</div>
<div class="t" style="left:334.5px;top:587px;font-size:12px;color:#111;font-weight:500">替换</div>
<div class="t" style="left:385.7px;top:587px;font-size:12px;color:#111;font-weight:500">保留所选</div>
<div class="t" style="left:524.5px;top:587px;font-size:12px;color:#111;font-weight:500">降噪</div>
<div class="t" style="left:587.0px;top:587px;font-size:12px;color:#111;font-weight:500">淡入</div>
<div class="t" style="left:650.5px;top:587px;font-size:12px;color:#111;font-weight:500">淡出</div>
<div class="t" style="left:764.4px;top:587px;font-size:12px;color:#111;font-weight:500">音频变调</div>
<div class="t" style="left:828.0px;top:587px;font-size:12px;color:#111;font-weight:500">音频变速</div>
<div class="t" style="left:891.0px;top:587px;font-size:12px;color:#111;font-weight:500">提取人声</div>
<div class="t" style="left:954.4px;top:587px;font-size:12px;color:#111;font-weight:500">消除人声</div>
<div class="t" style="left:1017.7px;top:587px;font-size:12px;color:#111;font-weight:500">去除静音</div>
<div class="t" style="left:1081.0px;top:587px;font-size:12px;color:#111;font-weight:500">音量调整</div>
<div class="t" style="left:1207.3px;top:587px;font-size:12px;color:#111;font-weight:500">背景音乐</div>


<!-- ===== footer ===== -->
<svg style="left:0;top:640px" width="160" height="39" viewBox="0 640 160 39">
  <path d="M19.8 656L29 649.9L38.3 656M22.2 655V666.2H26.7V660H31.5V666.2H36V655" stroke="#666" stroke-width="1.6" fill="none" stroke-linejoin="miter"/>
  <path d="M108.3 657.5A8.7 8.7 0 0 1 125.7 657.5" stroke="#666" stroke-width="1.4" fill="none"/>
  <path d="M110 659.5C110 654.5 113 651.8 117 651.8C121 651.8 124 654.5 124 659.5L121.8 659.5C121.3 657.8 120.2 656.6 119 655.6C117.3 657.6 114.6 658.8 112 659.2L112 660.5Z" fill="#666"/>
  <rect x="107.2" y="655" width="3.4" height="6.5" rx="1" fill="#666"/>
  <rect x="123.4" y="655" width="3.4" height="6.5" rx="1" fill="#666"/>
  <path d="M112.2 660.8Q113.5 665.5 117 665.8Q120.5 665.5 121.8 660.8" stroke="#999" stroke-width="0.8" fill="none"/>
  <path d="M115.3 662.6Q117 663.8 118.7 662.6" stroke="#666" stroke-width="0.9" fill="none"/>
  <path d="M124.8 661.5Q124.3 666.6 117.5 666.6" stroke="#666" stroke-width="1.3" fill="none"/>
  <circle cx="116.8" cy="666.6" r="1.4" fill="#666"/>
</svg>
<div class="t" style="left:43.5px;top:653.5px;font-size:12px;color:#555">官方网站</div>
<div class="t" style="left:131px;top:653.5px;font-size:12px;color:#555">客服</div>
<div class="t" style="left:1162.5px;top:653.5px;font-size:12px;color:#555">版本号：<span style="margin-left:3.8px">1.0.0.0</span></div>
<div class="a" style="left:559px;top:659px;width:147px;height:20px;background:#fefef8"></div>
<div class="t" style="left:571px;top:666.2px;font-size:19px;color:#f6f6ee;font-weight:300">1775206446</div>


<!-- red arrow -->
<svg style="left:0;top:0" width="1264" height="679" viewBox="0 0 1264 679">
  <path d="M602.6 544.5L624.6 409" stroke="#ff0000" stroke-width="2.2" fill="none"/>
  <polygon points="627.6,391.2 617.4,411.3 631.4,413.8" fill="#ff0000"/>
</svg>
<div class="a" style="left:1263px;top:0;width:1px;height:679px;background:#1f4fb4"></div>
</body>
</html>
